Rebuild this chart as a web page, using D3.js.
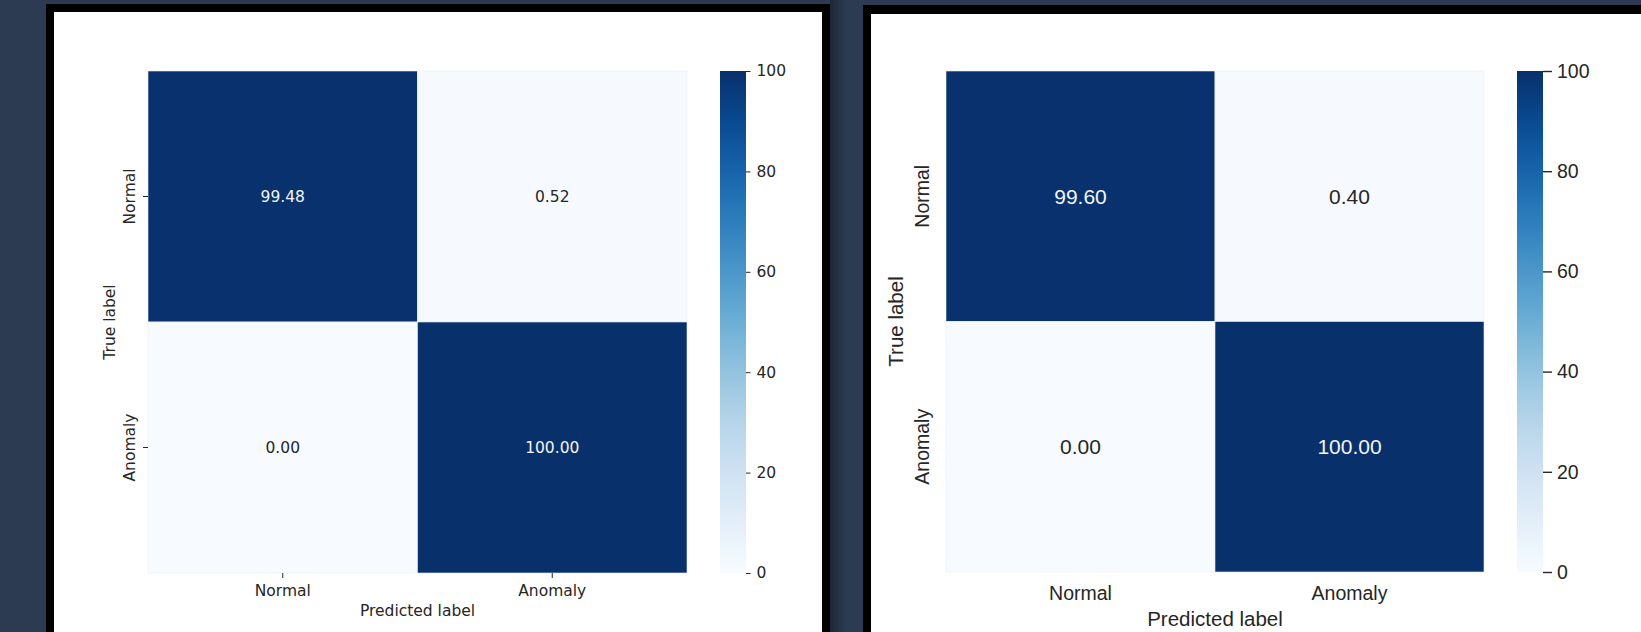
<!DOCTYPE html>
<html>
<head>
<meta charset="utf-8">
<script src="https://cdn.jsdelivr.net/npm/d3@7"></script>
<style>
  html, body { margin: 0; padding: 0; background: #2c3b51; }
  svg { display: block; }
</style>
</head>
<body>
<svg id="chart" width="1641" height="632"></svg>
<script>
// ---------------- data ----------------
const categories = ["Normal", "Anomaly"];
const leftValues = [[99.48, 0.52], [0.00, 100.00]];
const rightValues = [[99.60, 0.40], [0.00, 100.00]];
const colorbarTicks = [0, 20, 40, 60, 80, 100];
const xAxisTitle = "Predicted label";
const yAxisTitle = "True label";

// ---------------- drawing ----------------
const svg = d3.select("#chart");
svg.append("rect").attr("width", 1641).attr("height", 632).attr("fill", "#2c3b51");

const defs = svg.append("defs");
const shadow = defs.append("linearGradient").attr("id", "shadow").attr("x1", "0%").attr("x2", "100%");
shadow.append("stop").attr("offset", "0%").attr("stop-color", "#000").attr("stop-opacity", 0.35);
shadow.append("stop").attr("offset", "100%").attr("stop-color", "#000").attr("stop-opacity", 0);
svg.append("rect").attr("x", 830).attr("y", 0).attr("width", 16).attr("height", 632).attr("fill", "url(#shadow)");

// panel frames
svg.append("rect").attr("x", 46).attr("y", 4).attr("width", 784).attr("height", 700).attr("fill", "#000");
svg.append("rect").attr("x", 54).attr("y", 12).attr("width", 768).attr("height", 700).attr("fill", "#fff");
svg.append("rect").attr("x", 863).attr("y", 5).attr("width", 800).attr("height", 700).attr("fill", "#000");
svg.append("rect").attr("x", 871).attr("y", 14).attr("width", 800).attr("height", 700).attr("fill", "#fff");

const color = d3.scaleSequential(d3.interpolateBlues).domain([0, 100]);

function drawPanel(cfg) {
  const g = svg.append("g");
  const x = d3.scaleBand().domain(categories).range([cfg.x0, cfg.x1]);
  const y = d3.scaleBand().domain(categories).range([cfg.y0, cfg.y1]);

  const cells = [];
  cfg.values.forEach((row, i) => row.forEach((v, j) => cells.push({ r: categories[i], c: categories[j], v })));

  g.selectAll("rect.cell").data(cells).enter().append("rect")
    .attr("class", "cell")
    .attr("x", d => x(d.c)).attr("y", d => y(d.r))
    .attr("width", x.bandwidth()).attr("height", y.bandwidth())
    .attr("fill", d => color(d.v))
    .attr("stroke", "#e8eef7").attr("stroke-width", 0.6);

  g.selectAll("text.ann").data(cells).enter().append("text")
    .attr("class", "ann")
    .attr("x", d => x(d.c) + x.bandwidth() / 2)
    .attr("y", d => y(d.r) + y.bandwidth() / 2)
    .attr("dy", "0.36em")
    .attr("text-anchor", "middle")
    .attr("font-family", cfg.font)
    .attr("font-size", cfg.annSize)
    .attr("fill", d => d.v > 50 ? "#f4f4f4" : "#262626")
    .text(d => d.v.toFixed(2));

  // x axis
  const xa = g.append("g").attr("transform", `translate(0,${cfg.y1})`)
    .call(d3.axisBottom(x).tickSize(cfg.axTick).tickPadding(cfg.xPad));
  xa.select(".domain").remove();
  xa.selectAll("line").attr("stroke", "#262626").attr("stroke-width", 1);
  xa.selectAll("text").attr("font-family", cfg.font).attr("font-size", cfg.tickSize).attr("fill", "#262626");

  // y axis
  const ya = g.append("g").attr("transform", `translate(${cfg.x0},0)`)
    .call(d3.axisLeft(y).tickSize(cfg.axTick));
  ya.select(".domain").remove();
  ya.selectAll("line").attr("stroke", "#262626").attr("stroke-width", 1);
  ya.selectAll("text")
    .attr("font-family", cfg.font).attr("font-size", cfg.tickSize).attr("fill", "#262626")
    .attr("text-anchor", "middle")
    .attr("x", 0).attr("dy", 0)
    .attr("y", -cfg.yLabOff)
    .attr("transform", "rotate(-90)");

  // axis titles
  g.append("text")
    .attr("x", (cfg.x0 + cfg.x1) / 2).attr("y", cfg.xTitleY)
    .attr("text-anchor", "middle")
    .attr("font-family", cfg.font).attr("font-size", cfg.titleSize).attr("fill", "#262626")
    .text(xAxisTitle);
  g.append("text")
    .attr("transform", `translate(${cfg.yTitleX},${(cfg.y0 + cfg.y1) / 2}) rotate(-90)`)
    .attr("text-anchor", "middle")
    .attr("font-family", cfg.font).attr("font-size", cfg.titleSize).attr("fill", "#262626")
    .text(yAxisTitle);

  // colorbar
  const gid = "grad" + cfg.id;
  const grad = defs.append("linearGradient").attr("id", gid)
    .attr("x1", "0%").attr("y1", "100%").attr("x2", "0%").attr("y2", "0%");
  d3.range(0, 1.0001, 0.05).forEach(t => {
    grad.append("stop").attr("offset", (t * 100) + "%").attr("stop-color", color(t * 100));
  });
  const cb = d3.scaleLinear().domain([0, 100]).range([cfg.y1, cfg.y0]);
  g.append("rect")
    .attr("x", cfg.cbX0).attr("y", cb(100))
    .attr("width", cfg.cbX1 - cfg.cbX0).attr("height", cb(0) - cb(100))
    .attr("fill", `url(#${gid})`);
  const ca = g.append("g").attr("transform", `translate(${cfg.cbX1},0)`)
    .call(d3.axisRight(cb).tickValues(colorbarTicks).tickSize(cfg.cbTick).tickPadding(cfg.cbPad).tickFormat(d3.format("d")));
  ca.select(".domain").remove();
  ca.selectAll("line").attr("stroke", "#262626").attr("stroke-width", cfg.cbTickW);
  ca.selectAll("text").attr("font-family", cfg.font).attr("font-size", cfg.cbSize).attr("fill", "#262626");
}

drawPanel({
  id: "L", values: leftValues,
  x0: 148, x1: 687, y0: 71, y1: 573,
  font: "'DejaVu Sans', sans-serif",
  annSize: 15.5, tickSize: 15.5, titleSize: 15.5, cbSize: 15.5,
  axTick: 5, xPad: 6.5, yLabOff: 13,
  xTitleY: 616, yTitleX: 115,
  cbX0: 720, cbX1: 746, cbTick: 4.5, cbPad: 6, cbTickW: 1
});

drawPanel({
  id: "R", values: rightValues,
  x0: 946, x1: 1484, y0: 71, y1: 572,
  font: "'Liberation Sans', Arial, sans-serif",
  annSize: 21, tickSize: 19.5, titleSize: 20.5, cbSize: 19.5,
  axTick: 0, xPad: 14, yLabOff: 17,
  xTitleY: 626, yTitleX: 903,
  cbX0: 1517, cbX1: 1543, cbTick: 9, cbPad: 5, cbTickW: 1.4
});
</script>
</body>
</html>
